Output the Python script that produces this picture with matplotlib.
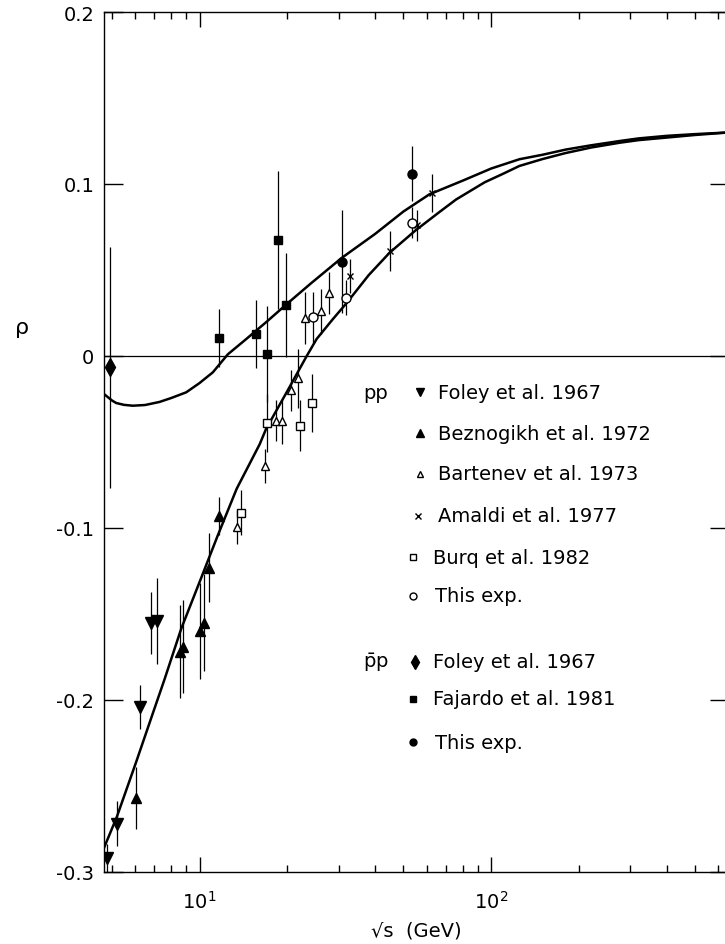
"""Real part of the forward amplitude, rho, for pp and pbar-p scattering."""

import matplotlib
matplotlib.use('Agg')
import matplotlib.pyplot as plt
from matplotlib import ticker


# pp : Foley et al. 1967
FOLEY_PP_S = [4.83, 5.2, 6.27, 6.82, 7.14]
FOLEY_PP_RHO = [-0.292, -0.272, -0.204, -0.155, -0.154]
FOLEY_PP_ERR = [0.008, 0.013, 0.013, 0.018, 0.025]

# pp : Beznogikh et al. 1972
BEZNOGIKH_S = [6.06, 8.54, 8.76, 10.0, 10.35, 10.77, 11.65]
BEZNOGIKH_RHO = [-0.257, -0.172, -0.169, -0.160, -0.155, -0.123, -0.093]
BEZNOGIKH_ERR = [0.018, 0.027, 0.027, 0.028, 0.028, 0.02, 0.011]

# pp : Bartenev et al. 1973
BARTENEV_S = [13.4, 16.7, 18.35, 19.1, 20.5, 21.8, 22.95, 26.0, 27.7]
BARTENEV_RHO = [-0.0995, -0.064, -0.0376, -0.038, -0.020, -0.013,
                0.022, 0.026, 0.0366]
BARTENEV_ERR = [0.01, 0.01, 0.012, 0.013, 0.012, 0.017, 0.015, 0.013, 0.012]

# pp : Amaldi et al. 1977
AMALDI_S = [32.9, 44.8, 55.7, 62.5]
AMALDI_RHO = [0.0466, 0.061, 0.076, 0.095]
AMALDI_ERR = [0.01, 0.0116, 0.009, 0.011]

# pp : Burq et al. 1982
BURQ_S = [13.9, 17.0, 22.1, 24.2]
BURQ_RHO = [-0.091, -0.039, -0.0405, -0.0273]
BURQ_ERR = [0.013, 0.017, 0.015, 0.017]

# pp : this experiment
THIS_PP_S = [24.5, 31.7, 53.7]
THIS_PP_RHO = [0.0225, 0.034, 0.0776]
THIS_PP_ERR = [0.015, 0.01, 0.009]

# pbar-p : Foley et al. 1967
FOLEY_PBP_S = [4.94]
FOLEY_PBP_RHO = [-0.0066]
FOLEY_PBP_ERR = [0.07]

# pbar-p : Fajardo et al. 1981
FAJARDO_S = [11.7, 15.6, 17.0, 18.5, 19.75]
FAJARDO_RHO = [0.0105, 0.0128, 0.001, 0.0675, 0.0296]
FAJARDO_ERR = [0.017, 0.02, 0.028, 0.04, 0.03]

# pbar-p : this experiment
THIS_PBP_S = [30.7, 53.7]
THIS_PBP_RHO = [0.0548, 0.106]
THIS_PBP_ERR = [0.03, 0.016]

# dispersion relation fits
FIT_PP_S = [4.7, 5.2, 6.06, 7.0, 7.58, 8.65, 10.1, 11.5, 13.4, 16.07, 16.9,
            19.9, 23.3, 25.2, 28.5, 32.0, 38.0, 44.8, 55.0, 66.8, 75.8, 95.0,
            110.0, 125.0, 150.0, 180.0, 220.0, 276.0, 320.0, 400.0, 500.0,
            654.0]
FIT_PP_RHO = [-0.286, -0.268, -0.236, -0.205, -0.188, -0.1585, -0.1295,
              -0.105, -0.0772, -0.0513, -0.0424, -0.021, 0.0, 0.0099, 0.021,
              0.031, 0.047, 0.06, 0.073, 0.084, 0.091, 0.101, 0.106, 0.1105,
              0.1145, 0.118, 0.1212, 0.124, 0.1255, 0.127, 0.1285, 0.130]
FIT_PBP_S = [4.7, 5.0, 5.17, 5.5, 5.9, 6.5, 7.29, 8.0, 9.0, 10.0, 11.1, 12.5,
             14.46, 17.0, 19.9, 24.0, 30.7, 40.0, 50.0, 61.4, 80.0, 100.0,
             125.0, 150.0, 180.0, 220.0, 276.0, 320.0, 400.0, 500.0, 654.0]
FIT_PBP_RHO = [-0.0221, -0.0258, -0.0273, -0.0284, -0.0289, -0.0285,
               -0.0267, -0.0244, -0.0211, -0.0157, -0.0095, 0.001, 0.0099,
               0.020, 0.0302, 0.042, 0.057, 0.071, 0.084, 0.094, 0.102,
               0.109, 0.1144, 0.117, 0.120, 0.1225, 0.125, 0.1265, 0.128,
               0.129, 0.130]

YTICKS = [-0.3, -0.2, -0.1, 0.0, 0.1, 0.2]
YTICK_LABELS = ['-0.3', '-0.2', '-0.1', '0', '0.1', '0.2']

PP_LABELS = ['Foley et al. 1967', 'Beznogikh et al. 1972',
             'Bartenev et al. 1973', 'Amaldi et al. 1977',
             'Burq et al. 1982', 'This exp.']
PBP_LABELS = ['Foley et al. 1967', 'Fajardo et al. 1981', 'This exp.']


def main():
    plt.rc('font', family='DejaVu Sans', size=14)
    plt.rc('mathtext', fontset='dejavusans')
    plt.rc('axes', unicode_minus=False, linewidth=1.0)

    # axes run just past the right edge of the page, so only the
    # inward ticks of the right spine remain visible
    fig = plt.figure(figsize=(7.25, 9.45), dpi=100)
    ax = fig.add_axes([104/725, 72/945, 625/725, 860/945])
    ax.set_xscale('log')
    ax.set_xlim(4.7, 654)
    ax.set_ylim(-0.3, 0.2)

    # zero line and fitted curves
    ax.axhline(0, color='k', lw=0.9, zorder=1)
    ax.plot(FIT_PP_S, FIT_PP_RHO, color='k', lw=1.8, zorder=2)
    ax.plot(FIT_PBP_S, FIT_PBP_RHO, color='k', lw=1.8, zorder=2)

    # data sets
    sets = [
        (FOLEY_PP_S, FOLEY_PP_RHO, FOLEY_PP_ERR, 'v', 8, 'k'),
        (BEZNOGIKH_S, BEZNOGIKH_RHO, BEZNOGIKH_ERR, '^', 7.5, 'k'),
        (BARTENEV_S, BARTENEV_RHO, BARTENEV_ERR, '^', 6, 'w'),
        (AMALDI_S, AMALDI_RHO, AMALDI_ERR, 'x', 5, 'k'),
        (BURQ_S, BURQ_RHO, BURQ_ERR, 's', 6, 'w'),
        (THIS_PP_S, THIS_PP_RHO, THIS_PP_ERR, 'o', 6.5, 'w'),
        (FOLEY_PBP_S, FOLEY_PBP_RHO, FOLEY_PBP_ERR, 'd', 9, 'k'),
        (FAJARDO_S, FAJARDO_RHO, FAJARDO_ERR, 's', 6, 'k'),
        (THIS_PBP_S, THIS_PBP_RHO, THIS_PBP_ERR, 'o', 6.5, 'k'),
    ]
    for s, rho, err, marker, ms, face in sets:
        ax.errorbar(s, rho, yerr=err, fmt=marker, color='k', mfc=face,
                    mec='k', mew=1.0, ms=ms, elinewidth=0.9, capsize=0,
                    zorder=3)

    # ticks
    ax.tick_params(which='both', direction='in', top=True, right=True,
                   width=1.0)
    ax.tick_params(which='major', length=11, pad=7)
    ax.tick_params(which='minor', length=5)
    ax.tick_params(axis='y', which='major', length=14)
    ax.tick_params(axis='x', which='major', pad=13)
    ax.xaxis.set_minor_formatter(ticker.NullFormatter())
    ax.set_yticks(YTICKS)
    ax.set_yticklabels(YTICK_LABELS)
    ax.yaxis.set_minor_locator(ticker.NullLocator())

    # axis labels
    ax.set_xlabel('\u221as  (GeV)', labelpad=6)
    fig.text(15/725, 1-328/945, '\u03c1', ha='left', va='center', size=16)

    # legend, drawn by hand
    tr = ax.transAxes
    sx = 622/625
    rows_pp = [0.5581, 0.5101, 0.4628, 0.4143, 0.3659, 0.3213]
    marks_pp = [('v', 5.5, 'k', 0.508), ('^', 5.5, 'k', 0.508),
                ('^', 4.5, 'w', 0.508), ('x', 4.5, 'k', 0.505),
                ('s', 4.5, 'w', 0.497), ('o', 5, 'w', 0.497)]
    text_pp = [0.537, 0.537, 0.537, 0.537, 0.529, 0.532]
    ax.text(0.4164*sx, rows_pp[0], 'pp', transform=tr, va='center')
    for label, y, (m, ms, fc, mx), tx in zip(PP_LABELS, rows_pp, marks_pp,
                                             text_pp):
        ax.plot([mx*sx], [y], m, ms=ms, mfc=fc, mec='k', mew=1.0,
                transform=tr, clip_on=False)
        ax.text(tx*sx, y, label, transform=tr, va='center')

    rows_pbp = [0.2442, 0.2012, 0.1508]
    marks_pbp = [('d', 7, 'k', 0.5), ('s', 4.5, 'k', 0.497),
                 ('o', 5, 'k', 0.497)]
    text_pbp = [0.529, 0.529, 0.532]
    ax.text(0.4164*sx, rows_pbp[0], r'$\mathrm{\bar{p}p}$', transform=tr,
            va='center')
    for label, y, (m, ms, fc, mx), tx in zip(PBP_LABELS, rows_pbp, marks_pbp,
                                             text_pbp):
        ax.plot([mx*sx], [y], m, ms=ms, mfc=fc, mec='k', mew=1.0,
                transform=tr, clip_on=False)
        ax.text(tx*sx, y, label, transform=tr, va='center')

    fig.savefig('out.png', dpi=100)
    plt.close(fig)


if __name__ == '__main__':
    main()
